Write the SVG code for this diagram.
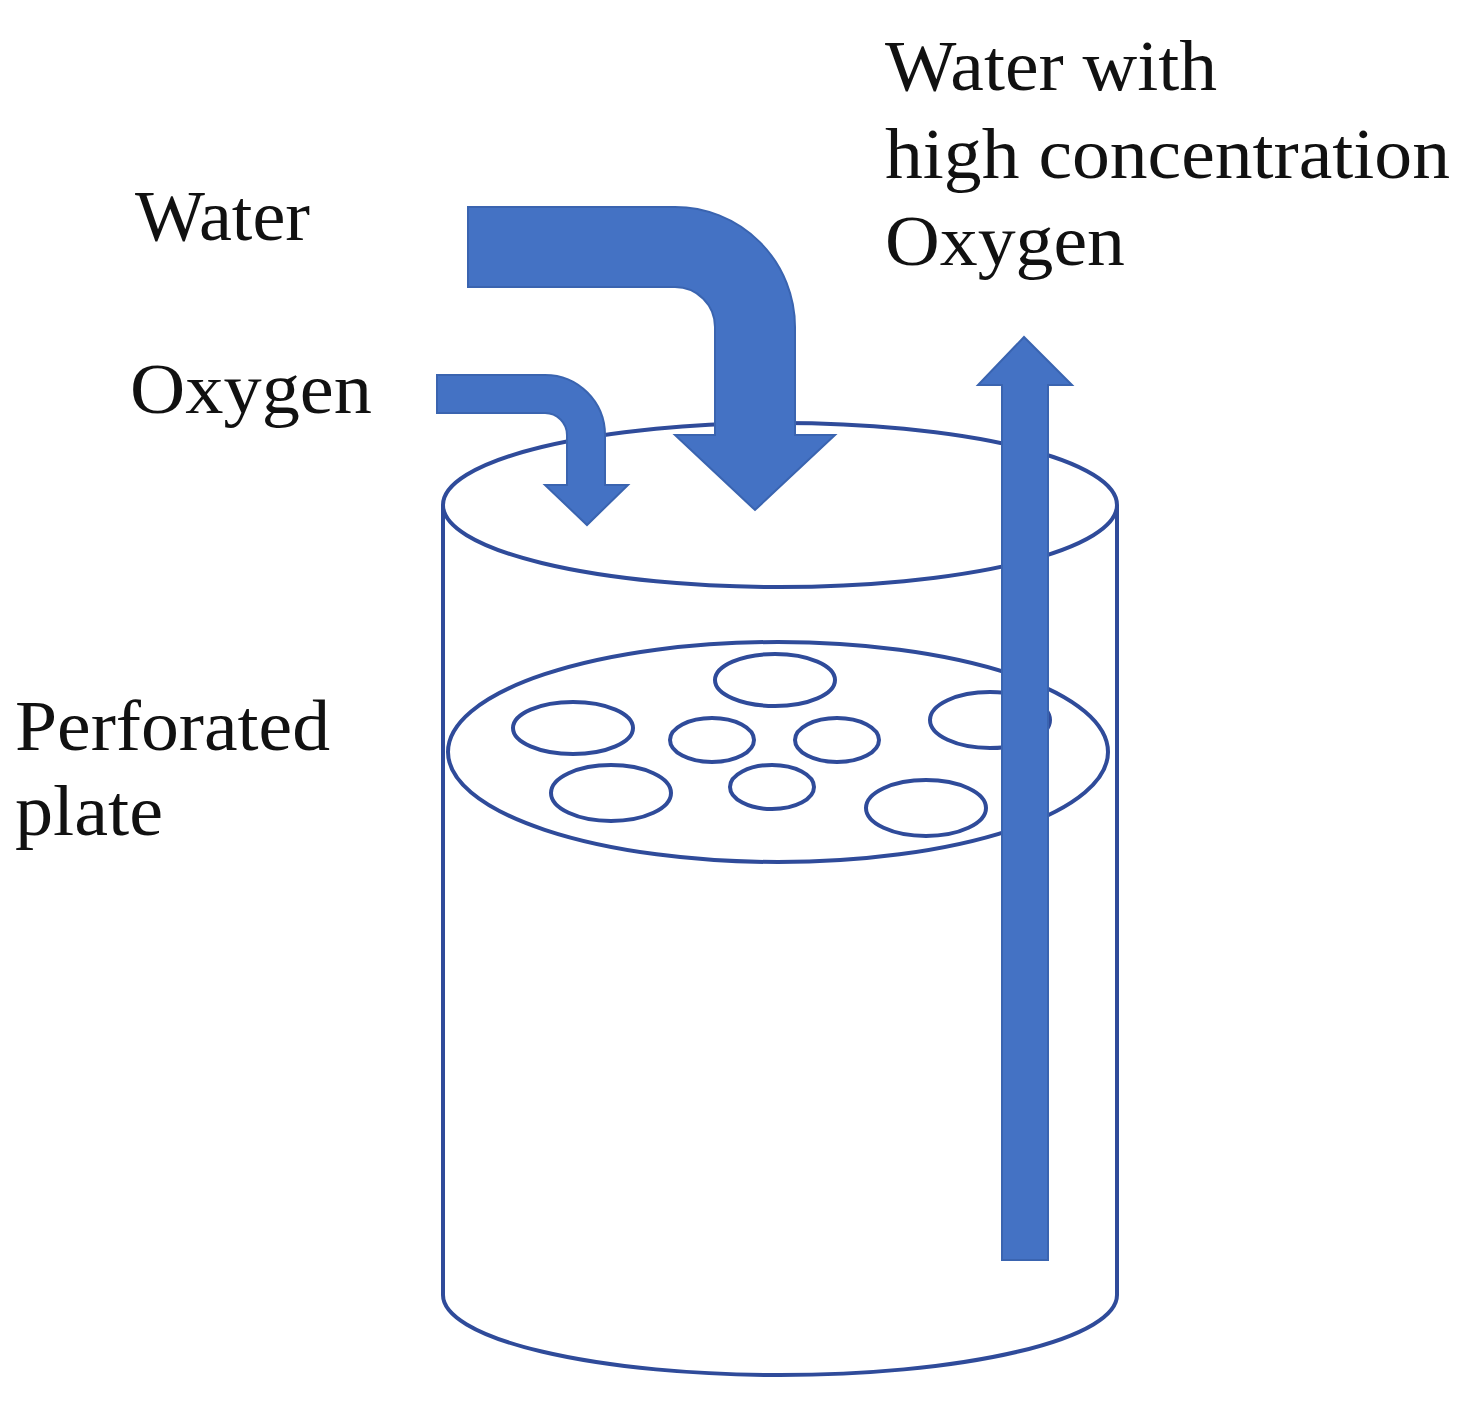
<svg xmlns="http://www.w3.org/2000/svg" width="1470" height="1404" viewBox="0 0 1470 1404">
<style>
.o{fill:none;stroke:#2F4B9A;stroke-width:4}
.a{fill:#4472C4;stroke:#3A64B0;stroke-width:2}
text{font-family:"Liberation Serif",serif;font-size:72px;fill:#111}
</style>
<rect width="1470" height="1404" fill="#fff"/>
<g id="cylinder">
<path class="o" d="M443 505 V1295 A337 80 0 0 0 1117 1295 V505"/>
<ellipse class="o" cx="780" cy="505" rx="337" ry="82"/>
</g>
<g id="plate">
<ellipse class="o" cx="778" cy="752" rx="330" ry="110"/>
<ellipse class="o" cx="775" cy="680" rx="60" ry="26"/>
<ellipse class="o" cx="573" cy="728" rx="60" ry="26"/>
<ellipse class="o" cx="712" cy="740" rx="42" ry="22"/>
<ellipse class="o" cx="837" cy="740" rx="42" ry="22"/>
<ellipse class="o" cx="990" cy="720" rx="60" ry="28"/>
<ellipse class="o" cx="611" cy="793" rx="60" ry="28"/>
<ellipse class="o" cx="772" cy="787" rx="42" ry="22"/>
<ellipse class="o" cx="926" cy="808" rx="60" ry="28"/>
</g>
<g id="connectors">
<path class="a" d="M468 207 H675 A120 120 0 0 1 795 327 V435 H835 L755 510 L675 435 H715 V327 A40 40 0 0 0 675 287 H468 Z"/>
<path class="a" d="M437 375 H545 A60 60 0 0 1 605 435 V485 H628 L587 525 L545 485 H567 V435 A22 22 0 0 0 545 413 H437 Z"/>
<path class="a" d="M1002 1260 V385 H978 L1024 337 L1072 385 H1048 V1260 Z"/>
</g>
<g id="labels">
<text x="135" y="240" textLength="175" lengthAdjust="spacingAndGlyphs">Water</text>
<text x="130" y="413" textLength="242" lengthAdjust="spacingAndGlyphs">Oxygen</text>
<text x="15" y="750" textLength="315" lengthAdjust="spacingAndGlyphs">Perforated</text>
<text x="15" y="835" textLength="148" lengthAdjust="spacingAndGlyphs">plate</text>
<text x="885" y="90" textLength="332" lengthAdjust="spacingAndGlyphs">Water with</text>
<text x="885" y="178" textLength="565" lengthAdjust="spacingAndGlyphs">high concentration</text>
<text x="885" y="265" textLength="240" lengthAdjust="spacingAndGlyphs">Oxygen</text>
</g>
</svg>
